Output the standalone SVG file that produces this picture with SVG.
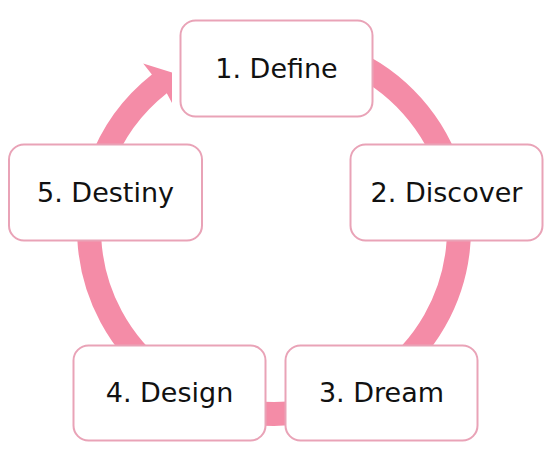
<svg xmlns="http://www.w3.org/2000/svg" width="553" height="451" viewBox="0 0 553 451">
<style>
.box{fill:#ffffff;stroke:#e9a3b7;stroke-width:2}
.lbl{font-family:"DejaVu Sans",sans-serif;font-size:27px;fill:#111111;text-anchor:middle}
.ring{fill:none;stroke:#f48ca7;stroke-width:24}
.head{fill:#f48ca7}
</style>
<rect width="553" height="451" fill="#ffffff"/>
<g id="connectors">
<path class="ring" d="M 274,44 A 185 185 0 1 1 100.2,165.7"/>
<path class="head" d="M 88.9,161.6 A 197 197 0 0 1 151.9,74.4 L 143.2,63.4 L 172,72.5 L 172,103 L 166.8,93.2 A 173 173 0 0 0 111.4,169.8 Z"/>
</g>
<g id="define"><rect class="box" x="180.5" y="20.5" width="192" height="96" rx="15"/><text class="lbl" x="276.5" y="77.5">1. Define</text></g>
<g id="discover"><rect class="box" x="350.5" y="144.5" width="192" height="96" rx="15"/><text class="lbl" x="446.5" y="201.5">2. Discover</text></g>
<g id="dream"><rect class="box" x="285.5" y="345.5" width="192" height="95" rx="15"/><text class="lbl" x="381.5" y="402">3. Dream</text></g>
<g id="design"><rect class="box" x="73.5" y="345.5" width="192" height="95" rx="15"/><text class="lbl" x="169.5" y="402">4. Design</text></g>
<g id="destiny"><rect class="box" x="9" y="144.5" width="193" height="96" rx="15"/><text class="lbl" x="105.5" y="201.5">5. Destiny</text></g>
</svg>
